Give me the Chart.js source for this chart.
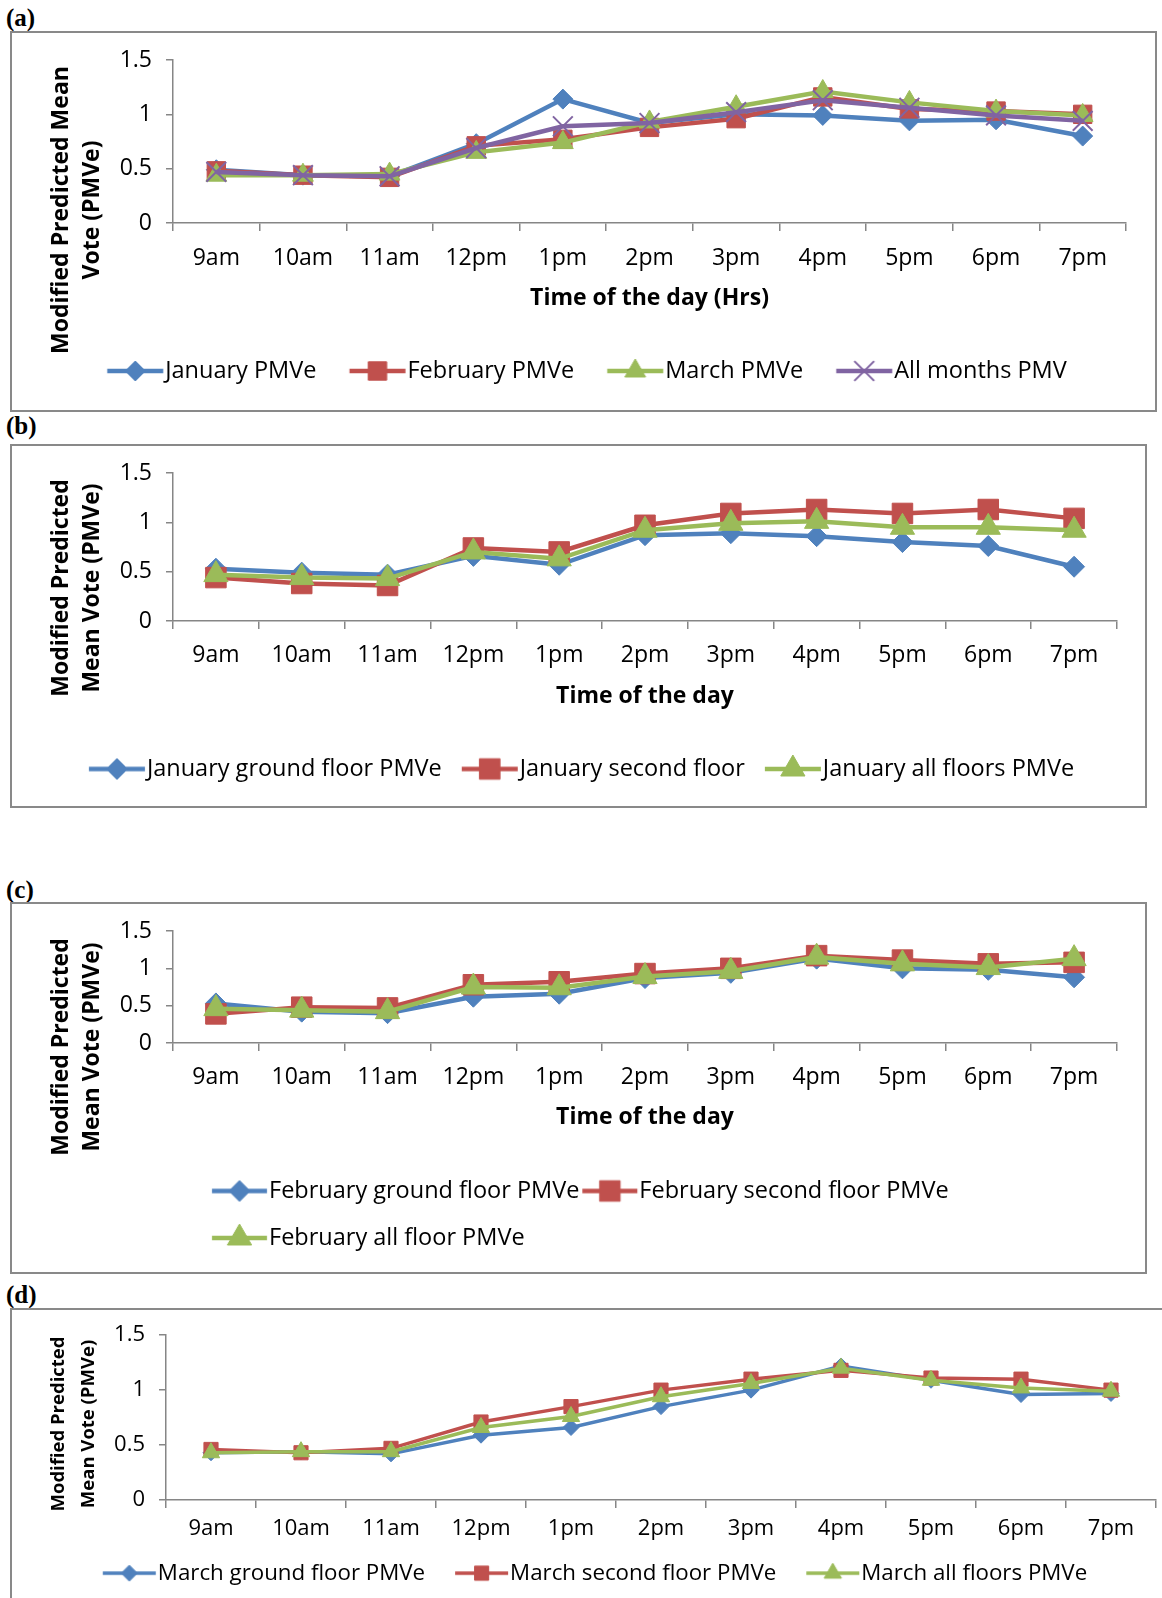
<!DOCTYPE html>
<html>
<head>
<meta charset="utf-8">
<script src="https://cdn.jsdelivr.net/npm/chart.js@4.4.1/dist/chart.umd.min.js"></script>
<style>
  html, body { margin: 0; padding: 0; background: #fff; width: 1162px; height: 1598px; overflow: hidden; }
  .box { position: absolute; border: 2px solid #898989; box-sizing: border-box; }
  .tag { position: absolute; left: 6px; font: bold 25px/25px 'Liberation Serif', serif; color: #000; }
  canvas { position: absolute; }
</style>
</head>
<body>
<div class="tag" style="top:5px">(a)</div>
<div class="box" style="left:10px;top:31px;width:1147px;height:381px"></div>
<canvas id="chartA" width="1147" height="381" style="left:10px;top:31px"></canvas>

<div class="tag" style="top:413px">(b)</div>
<div class="box" style="left:10px;top:444px;width:1137px;height:364px"></div>
<canvas id="chartB" width="1137" height="364" style="left:10px;top:444px"></canvas>

<div class="tag" style="top:877px">(c)</div>
<div class="box" style="left:10px;top:902px;width:1137px;height:372px"></div>
<canvas id="chartC" width="1137" height="372" style="left:10px;top:902px"></canvas>

<div class="tag" style="top:1282px">(d)</div>
<div class="box" style="left:10px;top:1308px;width:1180px;height:320px"></div>
<canvas id="chartD" width="1180" height="320" style="left:10px;top:1308px"></canvas>

<script>
const hours = ['9am', '10am', '11am', '12pm', '1pm', '2pm', '3pm', '4pm', '5pm', '6pm', '7pm'];
const yTicks = [0, 0.5, 1, 1.5];

// (a) all months
const janPMVe = [0.49, 0.44, 0.43, 0.73, 1.14, 0.92, 1.00, 0.99, 0.94, 0.95, 0.80];
const febPMVe = [0.48, 0.44, 0.42, 0.71, 0.77, 0.88, 0.96, 1.16, 1.05, 1.03, 1.00];
const marPMVe = [0.44, 0.44, 0.45, 0.65, 0.74, 0.93, 1.07, 1.21, 1.11, 1.03, 0.99];
const allPMV = [0.47, 0.44, 0.43, 0.69, 0.89, 0.92, 1.02, 1.13, 1.06, 0.99, 0.94];

// (b) January floors
const janGround = [0.53, 0.49, 0.47, 0.66, 0.57, 0.87, 0.89, 0.86, 0.80, 0.76, 0.55];
const janSecond = [0.44, 0.38, 0.36, 0.74, 0.70, 0.97, 1.09, 1.13, 1.09, 1.13, 1.04];
const janAll = [0.47, 0.44, 0.43, 0.70, 0.63, 0.92, 0.99, 1.01, 0.95, 0.95, 0.92];

// (c) February floors
const febGround = [0.53, 0.42, 0.40, 0.62, 0.66, 0.87, 0.94, 1.13, 1.00, 0.98, 0.88];
const febSecond = [0.39, 0.48, 0.47, 0.78, 0.82, 0.93, 1.00, 1.17, 1.11, 1.06, 1.08];
const febAll = [0.46, 0.44, 0.42, 0.75, 0.74, 0.89, 0.96, 1.15, 1.06, 1.01, 1.13];

// (d) March floors
const marGround = [0.43, 0.44, 0.42, 0.59, 0.66, 0.85, 1.00, 1.22, 1.09, 0.96, 0.97];
const marSecond = [0.46, 0.43, 0.47, 0.71, 0.85, 1.00, 1.10, 1.18, 1.11, 1.10, 1.00];
const marAll = [0.43, 0.44, 0.44, 0.66, 0.76, 0.94, 1.06, 1.20, 1.09, 1.02, 0.99];

const BLUE = '#4F81BD', RED = '#C0504D', GREEN = '#9BBB59', PURPLE = '#8064A2';
const AXIS = '#868686';
const FONT = "'Open Sans', sans-serif";

// legend sample: a line with the marker in its middle, like the Excel legend
function legendIcon(s, lg, lineWidth) {
  const box = lg.line - lg.size / 2 + 2 - lg.shift;
  const rightRel = box / 2 + lg.size / 2 - 2;
  const leftRel = rightRel - lg.line;
  const hw = Math.ceil(Math.max(rightRel, -leftRel)) + 2;
  const h = Math.ceil(s.radius * 2 + 6);
  const c = document.createElement('canvas');
  c.width = hw * 2;
  c.height = h;
  const ctx = c.getContext('2d');
  ctx.strokeStyle = s.color;
  ctx.fillStyle = s.color;
  ctx.lineWidth = lineWidth;
  ctx.beginPath();
  ctx.moveTo(hw + leftRel, h / 2);
  ctx.lineTo(hw + rightRel, h / 2);
  ctx.stroke();
  ctx.lineWidth = s.style === 'crossRot' ? 2 : 1;
  Chart.helpers.drawPoint(ctx, {pointStyle: s.style, radius: s.radius, rotation: 0, borderWidth: ctx.lineWidth},
    hw + (leftRel + rightRel) / 2, h / 2);
  return c;
}

const legendBox = {
  id: 'legendBox',
  afterLayout(chart, args, o) {
    const lg = chart.legend;
    if (!lg) return;
    if (o.right) {
      lg.left = o.left;
      lg.right = o.right;
      lg.width = o.right - o.left;
    }
    if (o.top) {
      lg.top = o.top;
      lg.bottom = o.top + lg.height;
    }
  }
};

const yTitle = {
  id: 'yTitle',
  afterDraw(chart, args, o) {
    const ctx = chart.ctx;
    ctx.save();
    ctx.translate(o.x, o.y);
    ctx.rotate(-Math.PI / 2);
    ctx.font = 'bold ' + o.size + 'px ' + FONT;
    ctx.fillStyle = '#000';
    ctx.textAlign = 'center';
    ctx.textBaseline = 'middle';
    o.lines.forEach((t, i) => ctx.fillText(t, 0, i * o.gap));
    ctx.restore();
  }
};

function makeChart(id, p) {
  const lg = p.legend;
  const icons = p.series.map(s => legendIcon(s, lg, p.lineWidth));
  new Chart(document.getElementById(id), {
    type: 'line',
    data: {
      labels: hours,
      datasets: p.series.map((s, i) => ({
        label: s.label,
        data: s.data,
        borderColor: s.color,
        backgroundColor: s.color,
        borderWidth: p.lineWidth,
        pointStyle: s.style,
        pointRadius: s.radius,
        pointHoverRadius: s.radius,
        pointBackgroundColor: s.color,
        pointBorderColor: s.color,
        pointBorderWidth: s.style === 'crossRot' ? 2 : 1,
        tension: 0,
        fill: false,
        order: p.series.length - i
      }))
    },
    options: {
      responsive: false,
      animation: false,
      events: [],
      layout: {padding: p.pad},
      scales: {
        x: {
          offset: true,
          grid: {offset: true, drawOnChartArea: false, tickLength: 8, color: AXIS, lineWidth: 1.5},
          border: {color: AXIS, width: 1.5},
          ticks: {color: '#000', font: {family: FONT, size: p.tickSize}, padding: p.xTickPad, maxRotation: 0, autoSkip: false},
          title: {
            display: !!p.xTitle, text: p.xTitle || '', color: '#000',
            font: {family: FONT, size: p.tickSize, weight: 'bold'},
            padding: {top: 0, bottom: p.xTitlePad || 0}
          },
          afterFit: s => { s.height = p.xHeight; }
        },
        y: {
          min: 0,
          max: 1.5,
          afterBuildTicks: s => { s.ticks = yTicks.map(v => ({value: v})); },
          ticks: {color: '#000', font: {family: FONT, size: p.tickSize}, padding: 14, callback: v => String(v)},
          grid: {drawOnChartArea: false, tickLength: 7, color: AXIS, lineWidth: 1.5},
          border: {color: AXIS, width: 1.5},
          afterFit: s => { s.width = p.yWidth; }
        }
      },
      plugins: {
        tooltip: {enabled: false},
        legend: {
          position: 'bottom',
          align: lg.align,
          fullSize: lg.fullSize,
          labels: {
            usePointStyle: true,
            pointStyleWidth: lg.line - lg.size / 2 + 2 - lg.shift,
            padding: lg.pad,
            color: '#000',
            font: {family: FONT, size: lg.size},
            generateLabels: chart => Chart.defaults.plugins.legend.labels.generateLabels(chart)
              .map(it => Object.assign(it, {pointStyle: icons[it.datasetIndex]})),
            sort: (a, b) => a.datasetIndex - b.datasetIndex
          }
        },
        legendBox: {left: lg.left, right: lg.right, top: lg.top},
        yTitle: p.yTitle
      }
    },
    plugins: [legendBox, yTitle]
  });
}

makeChart('chartA', {
  series: [
    {label: 'January PMVe', data: janPMVe, color: BLUE, style: 'rectRot', radius: 10},
    {label: 'February PMVe', data: febPMVe, color: RED, style: 'rect', radius: 13},
    {label: 'March PMVe', data: marPMVe, color: GREEN, style: 'triangle', radius: 12},
    {label: 'All months PMV', data: allPMV, color: PURPLE, style: 'crossRot', radius: 14}
  ],
  lineWidth: 4.5,
  tickSize: 23,
  pad: {left: 0, top: 29, right: 31, bottom: 19.25},
  yWidth: 163,
  xHeight: 103.25,
  xTickPad: 13.2,
  xTitle: 'Time of the day (Hrs)',
  xTitlePad: 14.45,
  legend: {size: 23.5, line: 56, shift: 0, pad: 33, align: 'center', fullSize: true, left: 17, right: 1137},
  yTitle: {lines: ['Modified Predicted Mean', 'Vote (PMVe)'], x: 51, y: 179, gap: 31, size: 23}
});

makeChart('chartB', {
  series: [
    {label: 'January ground floor PMVe', data: janGround, color: BLUE, style: 'rectRot', radius: 10.5},
    {label: 'January second floor', data: janSecond, color: RED, style: 'rect', radius: 14.5},
    {label: 'January all floors PMVe', data: janAll, color: GREEN, style: 'triangle', radius: 14}
  ],
  lineWidth: 4.5,
  tickSize: 23,
  pad: {left: 0, top: 29, right: 30, bottom: 17.25},
  yWidth: 163,
  xHeight: 116.25,
  xTickPad: 12.2,
  xTitle: 'Time of the day',
  xTitlePad: 27.45,
  legend: {size: 23.5, line: 56, shift: 0, pad: 20, align: 'center', fullSize: true, left: 12, right: 1131},
  yTitle: {lines: ['Modified Predicted', 'Mean Vote (PMVe)'], x: 51, y: 144, gap: 31, size: 23}
});

makeChart('chartC', {
  series: [
    {label: 'February ground floor PMVe', data: febGround, color: BLUE, style: 'rectRot', radius: 10.5},
    {label: 'February second floor PMVe', data: febSecond, color: RED, style: 'rect', radius: 14.5},
    {label: 'February all floor PMVe', data: febAll, color: GREEN, style: 'triangle', radius: 14}
  ],
  lineWidth: 4.5,
  tickSize: 23,
  pad: {left: 0, top: 29, right: 30, bottom: 14.25},
  yWidth: 163,
  xHeight: 112.75,
  xTickPad: 12.2,
  xTitle: 'Time of the day',
  xTitlePad: 24.95,
  legend: {size: 23.5, line: 55, shift: 20.5, pad: 23.5, align: 'start', fullSize: false, left: 199, right: 1130},
  yTitle: {lines: ['Modified Predicted', 'Mean Vote (PMVe)'], x: 51, y: 145, gap: 31, size: 23}
});

makeChart('chartD', {
  series: [
    {label: 'March ground floor PMVe', data: marGround, color: BLUE, style: 'rectRot', radius: 8},
    {label: 'March second floor PMVe', data: marSecond, color: RED, style: 'rect', radius: 10},
    {label: 'March all floors PMVe', data: marAll, color: GREEN, style: 'triangle', radius: 10}
  ],
  lineWidth: 3.5,
  tickSize: 22,
  pad: {left: 0, top: 24, right: 34, bottom: 20.7},
  yWidth: 156,
  xHeight: 45,
  xTickPad: 7.8,
  legend: {size: 22.3, line: 53, shift: 0, pad: 30, align: 'center', fullSize: true, left: 25, right: 1145, top: 224},
  yTitle: {lines: ['Modified Predicted', 'Mean Vote (PMVe)'], x: 49, y: 116, gap: 30, size: 18.5}
});
</script>
</body>
</html>
